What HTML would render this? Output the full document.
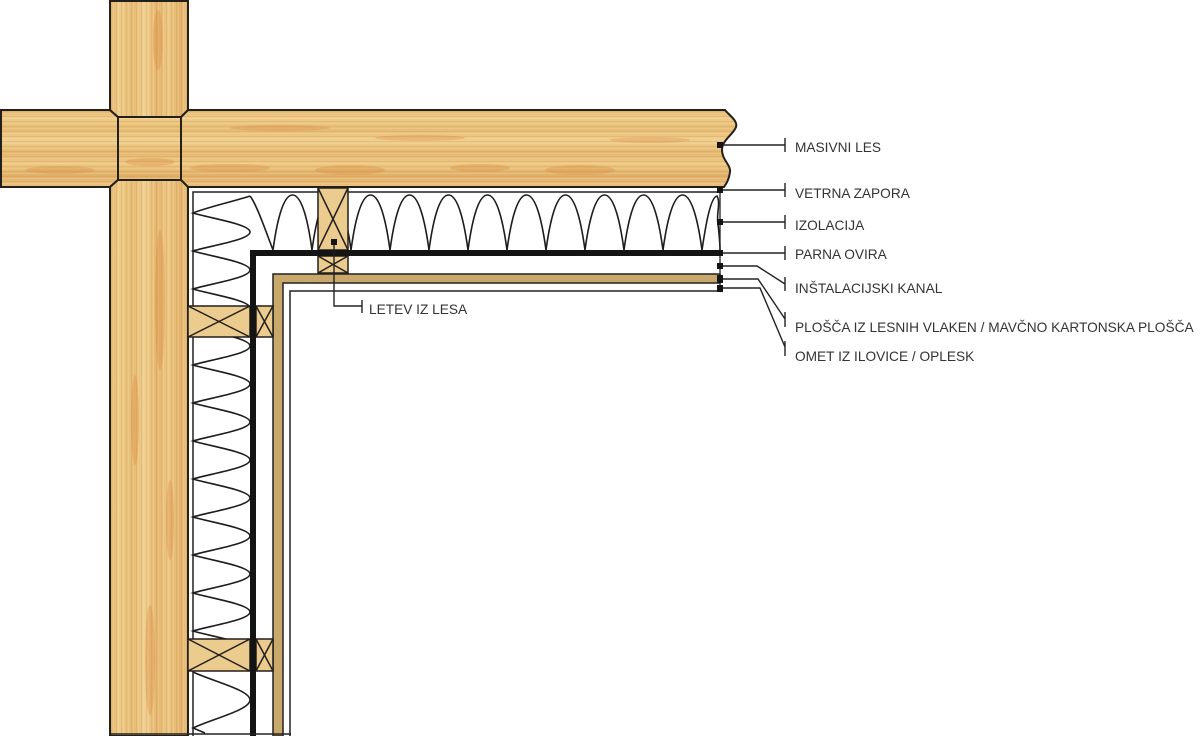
<!DOCTYPE html>
<html>
<head>
<meta charset="utf-8">
<style>
html,body{margin:0;padding:0;background:#fff;width:1200px;height:736px;overflow:hidden;}
svg{display:block;overflow:hidden;}
.lbl{font-family:"Liberation Sans",Arial,sans-serif;font-size:13.7px;fill:#333;}
</style>
</head>
<body>
<svg width="1200" height="736" viewBox="0 0 1200 736" xmlns="http://www.w3.org/2000/svg">
<defs>
  <linearGradient id="gb" x1="0" y1="110" x2="0" y2="187" gradientUnits="userSpaceOnUse">
    <stop offset="0" stop-color="#E2B46C"/>
    <stop offset="0.1" stop-color="#EFCD8A"/>
    <stop offset="0.25" stop-color="#E6BC75"/>
    <stop offset="0.4" stop-color="#F0D090"/>
    <stop offset="0.55" stop-color="#E4B770"/>
    <stop offset="0.7" stop-color="#EDC985"/>
    <stop offset="0.85" stop-color="#E0B068"/>
    <stop offset="1" stop-color="#EAC27E"/>
  </linearGradient>
  <linearGradient id="gp" x1="110" y1="0" x2="188" y2="0" gradientUnits="userSpaceOnUse">
    <stop offset="0" stop-color="#E3B66E"/>
    <stop offset="0.12" stop-color="#EFCD8A"/>
    <stop offset="0.3" stop-color="#E6BB74"/>
    <stop offset="0.45" stop-color="#F0D191"/>
    <stop offset="0.6" stop-color="#E4B66F"/>
    <stop offset="0.75" stop-color="#EDC886"/>
    <stop offset="0.9" stop-color="#E2B36B"/>
    <stop offset="1" stop-color="#EBC480"/>
  </linearGradient>
  <pattern id="lh" width="60" height="5" patternUnits="userSpaceOnUse">
    <rect x="0" y="1" width="60" height="0.8" fill="#D08F48" opacity="0.35"/>
    <rect x="0" y="3.4" width="60" height="0.5" fill="#FFF0CC" opacity="0.35"/>
  </pattern>
  <pattern id="lv" width="5" height="60" patternUnits="userSpaceOnUse">
    <rect x="1" y="0" width="0.8" height="60" fill="#D08F48" opacity="0.35"/>
    <rect x="3.4" y="0" width="0.5" height="60" fill="#FFF0CC" opacity="0.35"/>
  </pattern>
  <path id="beamL" d="M1,110 L110,110 L118,117 L118,180 L110,187 L1,187 Z"/>
  <path id="beamR" d="M181,117 L188,110 L725,110 C730,116 738,121 736,127 C733,135 722,140 722,150 C722,160 731,165 730,172 C729,180 726,184 724,187 L188,187 L181,180 Z"/>
  <path id="sq" d="M118,117 L181,117 L181,180 L118,180 Z"/>
  <path id="postT" d="M110,1 L188,1 L188,110 L181,117 L118,117 L110,110 Z"/>
  <path id="postB" d="M110,187 L118,180 L181,180 L188,187 L188,736 L110,736 Z"/>
  <clipPath id="cBeam"><use href="#beamR"/><use href="#beamL"/><use href="#sq"/></clipPath>
  <clipPath id="cPost"><use href="#postT"/><use href="#postB"/></clipPath>
</defs>

<rect x="0" y="0" width="1200" height="736" fill="#fff"/>

<!-- WOOD: horizontal beam -->
<g>
  <use href="#beamL" fill="url(#gb)"/>
  <use href="#beamR" fill="url(#gb)"/>
  <use href="#sq" fill="url(#gb)"/>
  <use href="#beamL" fill="url(#lh)"/>
  <use href="#beamR" fill="url(#lh)"/>
  <use href="#sq" fill="url(#lh)"/>
  <g clip-path="url(#cBeam)" fill="#D7853A" opacity="0.3">
    <ellipse cx="60" cy="170" rx="35" ry="4"/>
    <ellipse cx="150" cy="162" rx="25" ry="4"/>
    <ellipse cx="230" cy="168" rx="40" ry="4"/>
    <ellipse cx="350" cy="170" rx="35" ry="5"/>
    <ellipse cx="480" cy="168" rx="30" ry="4"/>
    <ellipse cx="580" cy="170" rx="35" ry="5"/>
    <ellipse cx="420" cy="138" rx="45" ry="3"/>
    <ellipse cx="650" cy="140" rx="40" ry="3"/>
    <ellipse cx="280" cy="128" rx="50" ry="3"/>
  </g>
  <use href="#beamL" fill="none" stroke="#231f1a" stroke-width="2"/>
  <use href="#beamR" fill="none" stroke="#231f1a" stroke-width="2"/>
  <use href="#sq" fill="none" stroke="#231f1a" stroke-width="2"/>
</g>

<!-- WOOD: vertical post -->
<g>
  <use href="#postT" fill="url(#gp)"/>
  <use href="#postB" fill="url(#gp)"/>
  <use href="#postT" fill="url(#lv)"/>
  <use href="#postB" fill="url(#lv)"/>
  <g clip-path="url(#cPost)" fill="#D7853A" opacity="0.3">
    <ellipse cx="158" cy="40" rx="5" ry="30"/>
    <ellipse cx="160" cy="300" rx="5" ry="70"/>
    <ellipse cx="135" cy="420" rx="4" ry="45"/>
    <ellipse cx="150" cy="660" rx="5" ry="55"/>
    <ellipse cx="170" cy="520" rx="4" ry="40"/>
  </g>
  <use href="#postT" fill="none" stroke="#231f1a" stroke-width="2"/>
  <use href="#postB" fill="none" stroke="#231f1a" stroke-width="2"/>
</g>

<!-- vetrna zapora line -->
<polyline points="193,736 193,192 720,192" fill="none" stroke="#222" stroke-width="1.5"/>

<!-- insulation: top horizontal -->
<path d="M250 196 C257 205 266 232 273 250
 C276 228 282 195 292.5 195 C303 195 309 228 312 250
 C315 228 321 195 331.5 195 C342 195 348 228 351 250
 C354 228 360 195 370.5 195 C381 195 387 228 390 250
 C393 228 399 195 409.5 195 C420 195 426 228 429 250
 C432 228 438 195 448.5 195 C459 195 465 228 468 250
 C471 228 477 195 487.5 195 C498 195 504 228 507 250
 C510 228 516 195 526.5 195 C537 195 543 228 546 250
 C549 228 555 195 565.5 195 C576 195 582 228 585 250
 C588 228 594 195 604.5 195 C615 195 621 228 624 250
 C627 228 633 195 643.5 195 C654 195 660 228 663 250
 C666 228 672 195 682.5 195 C693 195 699 228 702 250
 C705 230 710 197 717 196 C721 203 716 214 718 224 C719 233 720 244 720 250"
 fill="none" stroke="#1c1c1c" stroke-width="1.6"/>

<!-- insulation: vertical -->
<path d="M250 196 C235 201 205 208 193 213
 C209 218 250 224 250 232 C250 240 209 246 193 251
 C209 256 250 262 250 270 C250 278 209 284 193 289
 C209 294 250 300 250 308 C250 316 209 322 193 327
 C209 332 250 338 250 346 C250 354 209 360 193 365
 C209 370 250 376 250 384 C250 392 209 398 193 403
 C209 408 250 414 250 422 C250 430 209 436 193 441
 C209 446 250 452 250 460 C250 468 209 474 193 479
 C209 484 250 490 250 498 C250 506 209 512 193 517
 C209 522 250 528 250 536 C250 544 209 550 193 555
 C209 560 250 566 250 574 C250 582 209 588 193 593
 C209 598 250 604 250 612 C250 620 209 626 193 631
 C209 636 250 642 250 650 C250 658 209 664 193 669"
 fill="none" stroke="#1c1c1c" stroke-width="1.6"/>
<path d="M193 672 C212 681 250 690 250 700 C250 710 212 719 193 728 L205 733" fill="none" stroke="#1c1c1c" stroke-width="1.6"/>

<!-- parna ovira -->
<polyline points="253,736 253,253 722,253" fill="none" stroke="#141414" stroke-width="6" stroke-linejoin="miter"/>

<!-- board (plošča) -->
<polygon points="273,736 273,274 720,274 720,283 283,283 283,736" fill="#C9A86C" stroke="#222" stroke-width="1.5"/>

<!-- omet -->
<polyline points="290,736 290,291 720,291" fill="none" stroke="#222" stroke-width="1.5"/>

<!-- right closing line -->
<line x1="720" y1="187" x2="720" y2="292" stroke="#222" stroke-width="1.3"/>

<!-- bottom line -->
<line x1="110" y1="734" x2="291" y2="734" stroke="#222" stroke-width="1.5"/>

<!-- battens -->
<g fill="#EBCB8E" stroke="#231f1a" stroke-width="1.5">
  <rect x="318" y="188" width="30" height="62"/>
  <line x1="318" y1="188" x2="348" y2="250"/>
  <line x1="348" y1="188" x2="318" y2="250"/>
  <rect x="318" y="256" width="30" height="17"/>
  <line x1="318" y1="256" x2="348" y2="273"/>
  <line x1="348" y1="256" x2="318" y2="273"/>
  <rect x="188" y="306" width="62" height="31"/>
  <line x1="188" y1="306" x2="250" y2="337"/>
  <line x1="250" y1="306" x2="188" y2="337"/>
  <rect x="256" y="306" width="17" height="31"/>
  <line x1="256" y1="306" x2="273" y2="337"/>
  <line x1="273" y1="306" x2="256" y2="337"/>
  <rect x="188" y="639" width="62" height="32"/>
  <line x1="188" y1="639" x2="250" y2="671"/>
  <line x1="250" y1="639" x2="188" y2="671"/>
  <rect x="256" y="639" width="17" height="32"/>
  <line x1="256" y1="639" x2="273" y2="671"/>
  <line x1="273" y1="639" x2="256" y2="671"/>
</g>
<rect x="250" y="306" width="6" height="31" fill="#141414"/>
<rect x="250" y="639" width="6" height="32" fill="#141414"/>
<rect x="318" y="250" width="30" height="6" fill="#141414"/>

<!-- markers -->
<g fill="#141414">
  <rect x="717" y="142" width="6" height="6"/>
  <rect x="717" y="187" width="6" height="6"/>
  <rect x="717" y="219" width="6" height="6"/>
  <rect x="717" y="250" width="6" height="6"/>
  <rect x="717" y="263" width="6" height="6"/>
  <rect x="717" y="275" width="6" height="8"/>
  <rect x="717" y="285" width="6" height="7"/>
  <rect x="331" y="239" width="6" height="6"/>
</g>

<!-- leaders -->
<g fill="none" stroke="#222" stroke-width="1.4">
  <path d="M723 145 H785 M785 138 V152"/>
  <path d="M723 190 H785 M785 183 V197"/>
  <path d="M723 222 H785 M785 215 V229"/>
  <path d="M723 253 H785 M785 246 V260"/>
  <path d="M723 266 H757 L785 284 M785 277 V291"/>
  <path d="M723 279 H758 L785 319 M785 312 V327"/>
  <path d="M723 288 H760 L785 347 M785 341 V356"/>
  <path d="M334 245 V306 H362 M362 300 V313"/>
</g>

<!-- labels -->
<text class="lbl" x="795" y="152">MASIVNI LES</text>
<text class="lbl" x="795" y="198">VETRNA ZAPORA</text>
<text class="lbl" x="795" y="230">IZOLACIJA</text>
<text class="lbl" x="795" y="259">PARNA OVIRA</text>
<text class="lbl" x="795" y="293">INŠTALACIJSKI KANAL</text>
<text class="lbl" x="795" y="332">PLOŠČA IZ LESNIH VLAKEN / MAVČNO KARTONSKA PLOŠČA</text>
<text class="lbl" x="795" y="361">OMET IZ ILOVICE / OPLESK</text>
<text class="lbl" x="369" y="314">LETEV IZ LESA</text>
</svg>
</body>
</html>
